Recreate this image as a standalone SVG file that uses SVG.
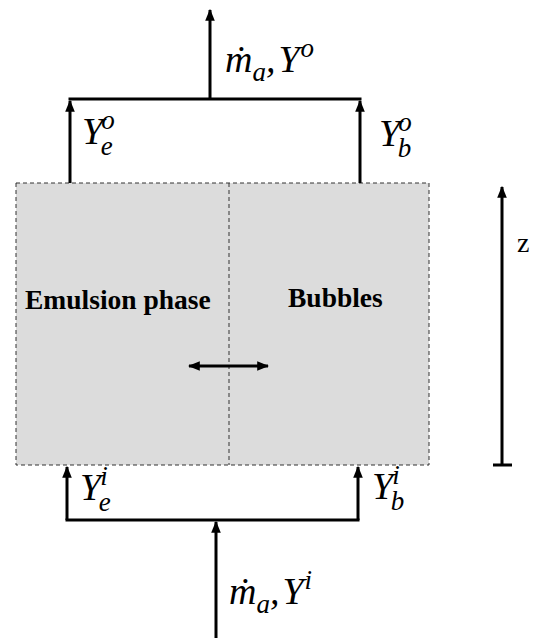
<svg xmlns="http://www.w3.org/2000/svg" width="536" height="638" viewBox="0 0 536 638">
<defs>
<marker id="ah" viewBox="0 0 10 10" refX="9" refY="5" markerWidth="4" markerHeight="4" orient="auto-start-reverse" markerUnits="strokeWidth">
<path d="M0,1 L10,5 L0,9 z" fill="#000"/>
</marker>
<style>
.box{fill:#dcdcdc;stroke:#333;stroke-width:1;stroke-dasharray:4,3}
.div{fill:none;stroke:#333;stroke-width:1;stroke-dasharray:4,3}
.ln{fill:none;stroke:#000;stroke-width:3}
.lbl{font-family:"Liberation Serif","Times New Roman",serif;font-weight:bold;font-size:27.5px;fill:#000}
.m{font-family:"Liberation Serif","Times New Roman",serif;font-style:italic;font-size:38px;fill:#000}
.s{font-size:27px}
.z{font-family:"Liberation Serif","Times New Roman",serif;font-size:28px;fill:#000}
</style>
</defs>
<g id="reactor">
<rect class="box" x="16" y="183" width="413" height="282"/>
<line class="div" x1="229" y1="183" x2="229" y2="465"/>
</g>
<g id="emulsion"><text class="lbl" x="25" y="309">Emulsion phase</text></g>
<g id="bubbles"><text class="lbl" x="288" y="307">Bubbles</text></g>
<g id="connectors">
<line class="ln" x1="70" y1="183" x2="70" y2="101" marker-end="url(#ah)"/>
<line class="ln" x1="360" y1="183" x2="360" y2="101" marker-end="url(#ah)"/>
<line class="ln" x1="68.5" y1="99" x2="361.5" y2="99"/>
<line class="ln" x1="210" y1="99" x2="210" y2="10" marker-end="url(#ah)"/>
<line class="ln" x1="67" y1="520" x2="67" y2="467" marker-end="url(#ah)"/>
<line class="ln" x1="358" y1="520" x2="358" y2="467" marker-end="url(#ah)"/>
<line class="ln" x1="65.5" y1="520" x2="359.5" y2="520"/>
<line class="ln" x1="216" y1="638" x2="216" y2="522" marker-end="url(#ah)"/>
<line class="ln" x1="189" y1="366" x2="268" y2="366" marker-start="url(#ah)" marker-end="url(#ah)"/>
<line class="ln" x1="502" y1="465" x2="502" y2="187" marker-end="url(#ah)"/>
<line class="ln" x1="493" y1="465" x2="512" y2="465"/>
</g>
<g id="labels">
<text class="m" x="225" y="72">ṁ<tspan class="s" dy="9">a</tspan><tspan dy="-9">,</tspan><tspan dx="3">Y</tspan><tspan class="s" dx="1" dy="-15">o</tspan></text>
<text class="m" x="82" y="144">Y<tspan class="s" dx="-2" dy="-15">o</tspan><tspan class="s" dx="-14" dy="26">e</tspan></text>
<text class="m" x="379" y="146">Y<tspan class="s" dx="-2" dy="-15">o</tspan><tspan class="s" dx="-14" dy="26">b</tspan></text>
<text class="m" x="80" y="500">Y<tspan class="s" dx="-1" dy="-15">i</tspan><tspan class="s" dx="-9" dy="26">e</tspan></text>
<text class="m" x="372" y="499">Y<tspan class="s" dx="-1" dy="-15">i</tspan><tspan class="s" dx="-9" dy="26">b</tspan></text>
<text class="m" x="229" y="604">ṁ<tspan class="s" dy="9">a</tspan><tspan dy="-9">,</tspan><tspan dx="3">Y</tspan><tspan class="s" dx="1" dy="-15">i</tspan></text>
<text class="z" x="517" y="252">z</text>
</g>
</svg>
